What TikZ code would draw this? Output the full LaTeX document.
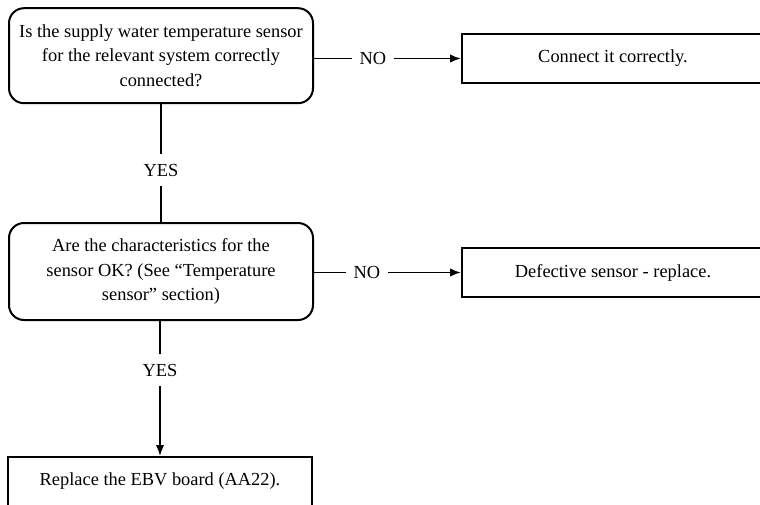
\documentclass[tikz,border=0pt]{standalone}
\usepackage{fontspec}
\setmainfont{Liberation Serif}
\usetikzlibrary{arrows.meta}
\begin{document}
\begin{tikzpicture}[x=1pt,y=-1pt,
  txt/.style={font=\fontsize{18.4}{24.2}\selectfont, align=center, inner sep=0pt},
  qbox/.style={txt, draw, line width=2pt, rounded corners=15pt, minimum width=304pt, minimum height=95pt},
  abox/.style={txt, draw, line width=2pt, minimum width=302pt, minimum height=49pt},
  conn/.style={line width=1.8pt},
  arr/.style={conn, -{Latex[length=11pt,width=8.5pt]}},
  nolbl/.style={txt, fill=white, inner xsep=7.5pt, inner ysep=3pt},
  yeslbl/.style={txt, fill=white, inner xsep=3pt, inner ysep=10pt}]
\useasboundingbox (0,0) rectangle (760,504);
\clip (0,0) rectangle (760,504);
\node[qbox] (q1) at (161,55.7) {Is the supply water temperature sensor\\for the relevant system correctly\\connected?};
\node[abox] (a1) at (613,58.5) {Connect it correctly.};
\node[qbox, minimum height=97pt] (q2) at (161,271.5) {Are the characteristics for the\\sensor OK? (See “Temperature\\sensor” section)};
\node[abox] (a2) at (613,272.5) {Defective sensor - replace.};
\node[abox, minimum width=304pt, minimum height=49pt] (a3) at (160,481.5) {Replace the EBV board (AA22).};
\draw[arr] (a1.west -| q1.east) -- node[nolbl, pos=0.4] {NO} (a1.west);
\draw[arr] (a2.west -| q2.east) -- node[nolbl, pos=0.36] {NO} (a2.west);
\draw[conn] (q1.south) -- node[yeslbl, pos=0.56] {YES} (q2.north);
\draw[arr] (q2.south -| a3.north) -- node[yeslbl, pos=0.365] {YES} (a3.north);
\end{tikzpicture}
\end{document}
